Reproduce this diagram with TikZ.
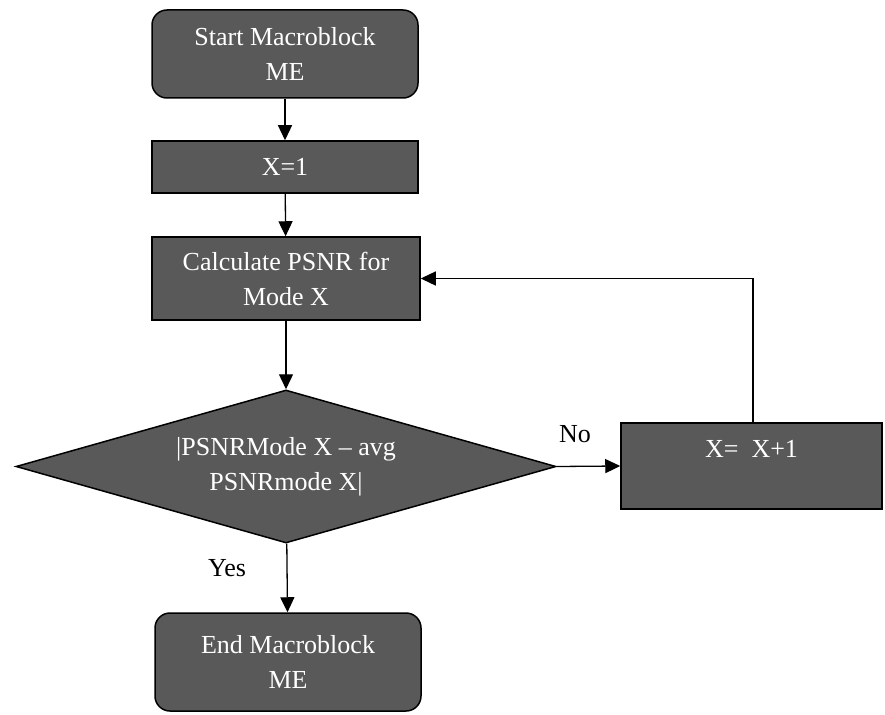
\documentclass[tikz,border=0pt]{standalone}
\usepackage{fontspec}
\setmainfont{Liberation Serif}
\usetikzlibrary{shapes.geometric,arrows.meta}
\definecolor{boxgray}{RGB}{89,89,89}
\begin{document}
\begin{tikzpicture}[x=1pt,y=-1pt,
  base/.style={draw=black,line width=1.5pt,fill=boxgray,text=white,align=center,
    font=\fontsize{26}{35}\selectfont,inner sep=0pt},
  roundbox/.style={base,rectangle,rounded corners=15pt},
  sqbox/.style={base,rectangle},
  decision/.style={base,diamond,aspect=3.53},
  lbl/.style={font=\fontsize{26}{35}\selectfont,text=black,inner sep=0pt},
  arr/.style={line width=1.3pt,-{Triangle[length=15pt,width=14pt]}},
  ln/.style={line width=1.3pt}]
\useasboundingbox (0,0) rectangle (885,714);
\node[roundbox,minimum width=266pt,minimum height=88pt] (start) at (285,54) {Start Macroblock\\ME};
\node[sqbox,minimum width=266pt,minimum height=52pt] (x1) at (285,167) {X=1};
\node[sqbox,minimum width=268pt,minimum height=83pt] (calc) at (286,278.5) {Calculate PSNR for\\Mode X};
\node[decision,minimum width=540pt,minimum height=153pt] (dia) at (286,466.5) {|PSNRMode X -- avg\\PSNRmode X|};
\node[sqbox,minimum width=261pt,minimum height=86pt] (inc) at (751.5,466) {X=\ \ X+1\\\mbox{}};
\node[roundbox,minimum width=266pt,minimum height=98pt] (end) at (288,662) {End Macroblock\\ME};
\node[lbl] (no) at (575,434) {No};
\node[lbl] (yes) at (227,568) {Yes};
\coordinate (up) at (753,423);
\draw[arr] (start) -- (x1);
\draw[arr] (x1) -- (calc);
\draw[arr] (calc) -- (dia);
\draw[arr] (dia.east) -- (inc.west);
\draw[arr] (dia) -- (end);
\draw[arr] (up) |- (calc.east);
\end{tikzpicture}
\end{document}
